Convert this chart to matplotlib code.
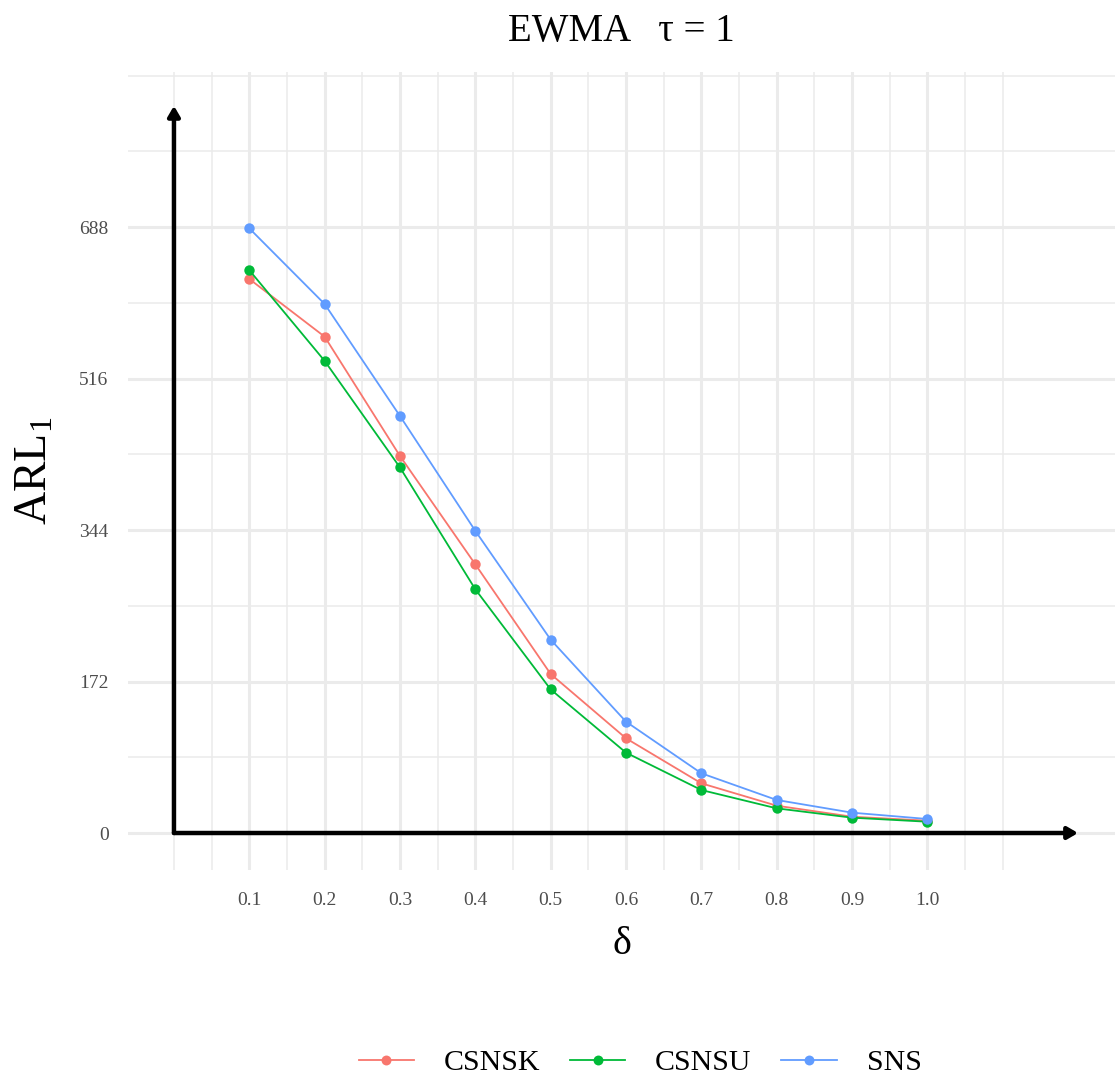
import matplotlib
matplotlib.use("Agg")
import matplotlib.pyplot as plt
import numpy as np

plt.rcParams['font.family'] = ['Liberation Serif', 'DejaVu Serif']
plt.rcParams['mathtext.fontset'] = 'custom'
plt.rcParams['mathtext.rm'] = 'Liberation Serif'
plt.rcParams['mathtext.it'] = 'Liberation Serif:italic'

# shift sizes and ARL1 for each chart
delta = [0.1, 0.2, 0.3, 0.4, 0.5, 0.6, 0.7, 0.8, 0.9, 1.0]
csnsk = [629, 563.5, 428, 305, 180.5, 107.5, 56.4, 31, 18.5, 14]
csnsu = [639, 536, 415, 276.7, 163, 91.2, 48.8, 28, 17.4, 12.8]
sns_ = [686.5, 600.6, 473.4, 343, 219.5, 126.4, 67.8, 37.5, 23.1, 15.9]

series = ['CSNSK', 'CSNSU', 'SNS']
colors = ['#F8766D', '#00BA38', '#619CFF']
y_breaks = [0, 172, 344, 516, 688]

fig = plt.figure(figsize=(11.15, 10.83), dpi=100)
ax = fig.add_axes([128 / 1115, 1 - 870 / 1083, 1 - 128 / 1115, (870 - 72) / 1083])

x_max = 1.2
y_max = 1.2 * max(y_breaks)
ax.set_xlim(-0.061, 1.249)
ax.set_ylim(-42, 864)

# grid (theme_minimal look)
ax.set_xticks(delta)
ax.set_xticklabels(['%.1f' % d for d in delta])
ax.set_xticks([0.0] + [round(0.05 + 0.1 * i, 2) for i in range(11)] + [1.1], minor=True)
ax.set_yticks(y_breaks)
ax.set_yticklabels([str(b) for b in y_breaks])
ax.set_yticks([86, 258, 430, 602, 774, 860], minor=True)
ax.grid(which='major', color='#EBEBEB', linewidth=2.2)
ax.grid(which='minor', color='#EBEBEB', linewidth=1.1)
ax.tick_params(which='both', length=0, labelsize=14, labelcolor='#4D4D4D')
ax.tick_params(axis='x', pad=16)
ax.tick_params(axis='y', pad=14)
for s in ax.spines.values():
    s.set_visible(False)
ax.set_axisbelow(True)

# axes drawn as arrows
arrow = dict(arrowstyle='-|>,head_length=0.6,head_width=0.35', lw=3.2,
             color='black', shrinkA=0, shrinkB=0, mutation_scale=10)
ax.annotate('', xy=(x_max, 0), xytext=(0, 0), arrowprops=arrow)
ax.annotate('', xy=(0, y_max), xytext=(0, 0), arrowprops=arrow)

for name, vals, c in zip(series, [csnsk, csnsu, sns_], colors):
    ax.plot(delta, vals, color=c, lw=1.3, marker='o', markersize=7.5,
            markeredgewidth=0, label=name, zorder=3)

ax.set_xlabel('δ', fontsize=29, labelpad=12)
ax.set_ylabel(r'$\mathrm{ARL}_1$', fontsize=33, labelpad=16)
ax.set_title('EWMA   τ = 1', fontsize=28, pad=22)

fig.legend(loc='center', bbox_to_anchor=(0.574, 0.0185), ncol=3, frameon=False,
           fontsize=21.5, handlelength=1.85, handletextpad=1.0,
           columnspacing=1.0, markerscale=0.95)

fig.savefig('out.png', dpi=100)
